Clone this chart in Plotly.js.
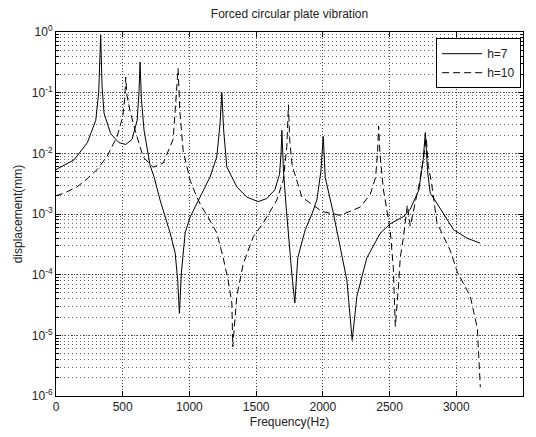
<!DOCTYPE html>
<html>
<head>
<meta charset="utf-8">
<script src="https://cdn.plot.ly/plotly-3.0.1.min.js"></script>
<style>
html,body{margin:0;padding:0;background:#fff;}
#chart{width:536px;height:437px;}
</style>
</head>
<body>
<div id="chart"></div>
<script>
// h=7 (solid)
var freqH7 = [0,135,235,298,320,335,345,360,410,472,523,570,608,622,630,640,660,705,735,780,855,893,912,925,940,968,1005,1080,1155,1205,1230,1243,1256,1280,1355,1430,1515,1580,1640,1675,1687,1693,1705,1725,1745,1768,1790,1812,1868,1918,1955,1985,2003,2018,2080,2180,2220,2255,2330,2430,2505,2605,2655,2720,2752,2768,2785,2805,2855,2980,3080,3180];
var dispH7 = [5.4e-3,7.8e-3,1.5e-2,3.5e-2,0.1,0.89,0.13,4.6e-2,2.1e-2,1.5e-2,1.4e-2,1.7e-2,3.5e-2,0.1,0.32,0.08,2.4e-2,6.3e-3,4.1e-3,1.7e-3,4.9e-4,2.3e-4,8.1e-5,2.3e-5,1.1e-4,4.9e-4,8.9e-4,1.9e-3,4.1e-3,8.7e-3,3.2e-2,0.1,2.5e-2,6.0e-3,2.8e-3,1.9e-3,1.6e-3,1.8e-3,2.5e-3,4.5e-3,1e-2,2.4e-2,5e-3,1.3e-3,3.7e-4,1.0e-4,3.4e-5,1.9e-4,5.5e-4,1.0e-3,1.7e-3,5e-3,1.9e-2,4e-3,1.0e-3,8.1e-5,8.3e-6,4.4e-5,1.9e-4,4.8e-4,6.9e-4,9.1e-4,1.2e-3,2.5e-3,7.9e-3,2.2e-2,5e-3,2.2e-3,1.5e-3,5.5e-4,4e-4,3.3e-4];
// h=10 (dashed)
var freqH10 = [0,60,158,233,308,383,458,500,515,523,532,555,593,653,728,803,878,900,915,928,953,1005,1055,1093,1140,1205,1253,1290,1318,1325,1355,1403,1478,1553,1655,1703,1730,1742,1752,1770,1843,1993,2130,2280,2355,2395,2410,2418,2428,2453,2483,2505,2528,2543,2565,2580,2603,2633,2655,2685,2723,2753,2775,2790,2815,2855,2955,3008,3105,3158,3180];
var dispH10 = [2.0e-3,2.2e-3,2.8e-3,3.8e-3,5.4e-3,8.9e-3,1.9e-2,4e-2,8e-2,0.18,9e-2,5e-2,2.4e-2,8.7e-3,5.9e-3,6.9e-3,1.7e-2,7.6e-2,0.25,5e-2,1.1e-2,3.6e-3,1.9e-3,1.3e-3,8.9e-4,4.9e-4,1.9e-4,8.1e-5,3.4e-5,6.5e-6,4.4e-5,1.5e-4,4.2e-4,7.1e-4,1.7e-3,3.6e-3,1.3e-2,6.3e-2,1.6e-2,6.3e-3,1.9e-3,1.1e-3,9.5e-4,1.3e-3,2.1e-3,4e-3,1e-2,2.8e-2,1e-2,2.6e-3,1.1e-3,5.4e-4,1.3e-4,1.4e-5,5.6e-5,1.9e-4,4e-4,1.4e-3,6.3e-4,1.3e-3,3.2e-3,7.9e-3,1.8e-2,6.3e-3,3.2e-3,7.2e-4,2.5e-4,1.1e-4,4.4e-5,1.3e-5,1.4e-6];

var seriesNames = ['h=7', 'h=10'];
var xTickVals = [0,500,1000,1500,2000,2500,3000,3500];
var yTickVals = [1e-6,1e-5,1e-4,1e-3,1e-2,1e-1,1];
var yTickText = ['10<sup>-6</sup>','10<sup>-5</sup>','10<sup>-4</sup>','10<sup>-3</sup>','10<sup>-2</sup>','10<sup>-1</sup>','10<sup>0</sup>'];

var FONT = 'Liberation Sans, Arial, Helvetica, sans-serif';

var traces = [
  {x: freqH7, y: dispH7, name: seriesNames[0], type: 'scatter', mode: 'lines',
   line: {color: '#000', width: 1}},
  {x: freqH10, y: dispH10, name: seriesNames[1], type: 'scatter', mode: 'lines',
   line: {color: '#000', width: 1, dash: '7px,4px'}}
];

var gridStyle = {gridcolor: '#444', griddash: '1px,2px', gridwidth: 1};

var layout = {
  width: 536, height: 437,
  margin: {l: 56, r: 13, t: 32, b: 41},
  paper_bgcolor: '#fff', plot_bgcolor: '#fff',
  font: {family: FONT, size: 12, color: '#222'},
  showlegend: true,
  title: {text: 'Forced circular plate vibration', font: {family: FONT, size: 12, color: '#222'},
          x: 0.5, xref: 'paper', xanchor: 'center', y: 1 - 14/437, yref: 'container', yanchor: 'middle'},
  xaxis: Object.assign({
    range: [0, 3500], tickmode: 'array', tickvals: xTickVals,
    showgrid: true, zeroline: false,
    showline: true, linecolor: '#000', linewidth: 1, mirror: 'ticks',
    ticks: 'inside', ticklen: 5, tickcolor: '#000',
    tickfont: {family: FONT, size: 12, color: '#222'},
    title: {text: 'Frequency(Hz)', font: {family: FONT, size: 12, color: '#222'}, standoff: 4},
    automargin: false
  }, gridStyle),
  yaxis: Object.assign({
    type: 'log', range: [-6, 0], tickmode: 'array', tickvals: yTickVals, ticktext: yTickText,
    showgrid: true, zeroline: false,
    showline: true, linecolor: '#000', linewidth: 1, mirror: 'ticks',
    ticks: 'inside', ticklen: 5, tickcolor: '#000',
    tickfont: {family: FONT, size: 12, color: '#222'},
    minor: {dtick: 'D1', showgrid: true, gridcolor: '#666', griddash: '1px,3px', gridwidth: 1,
            ticks: 'inside', ticklen: 3, tickcolor: '#000'},
    title: {text: 'displacement(mm)', font: {family: FONT, size: 12, color: '#222'}, standoff: 6},
    automargin: false
  }, gridStyle),
  legend: {
    x: 0.996, y: 0.983, xanchor: 'right', yanchor: 'top',
    bgcolor: '#fff', bordercolor: '#000', borderwidth: 1,
    font: {family: FONT, size: 12, color: '#222'},
    itemwidth: 40, tracegroupgap: 0
  }
};

Plotly.newPlot('chart', traces, layout, {staticPlot: true, displayModeBar: false});
</script>
</body>
</html>
